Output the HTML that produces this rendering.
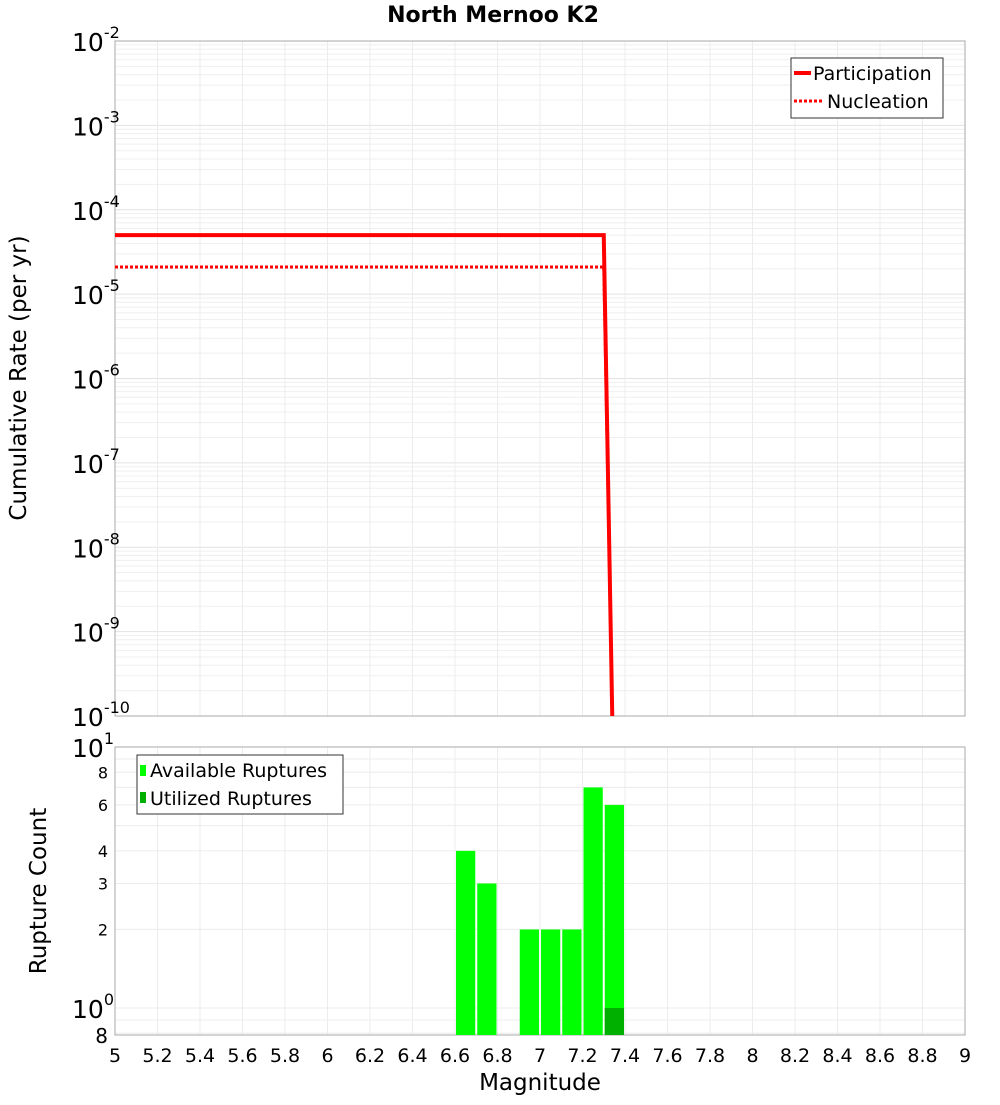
<!DOCTYPE html>
<html><head><meta charset="utf-8"><style>
body{margin:0;background:#fff;}
svg text{font-family:"DejaVu Sans","Liberation Sans",sans-serif;}
</style></head><body>
<svg id="c" width="1000" height="1100" xmlns="http://www.w3.org/2000/svg"></svg>
<script>
const xTicks=[5,5.2,5.4,5.6,5.8,6,6.2,6.4,6.6,6.8,7,7.2,7.4,7.6,7.8,8,8.2,8.4,8.6,8.8,9];
const partMag=[5,7.3,7.34];
const partRate=[5.0e-5,5.0e-5,1e-10];
const nuclMag=[5,7.3,7.34];
const nuclRate=[2.1e-5,2.1e-5,1e-10];
const binStart=[6.6,6.7,6.9,7.0,7.1,7.2,7.3];
const availCount=[4,3,2,2,2,7,6];
const utilStart=[7.3];
const utilCount=[1];
const topExps=[-2,-3,-4,-5,-6,-7,-8,-9,-10];

const svg=document.getElementById('c');const NS='http://www.w3.org/2000/svg';
function mk(t,a,name,parent){const e=document.createElementNS(NS,t);for(const k in a)e.setAttribute(k,a[k]);


(parent||svg).appendChild(e);return e;}
const X0=115,X1=965;
const sx=m=>X0+(m-5)/4*(X1-X0);
const T0=41,T1=716;
const sy=v=>T0+(-2-Math.log10(v))/8*(T1-T0);
const B0=747,B1=1035;
const by=v=>1008-Math.log10(v)*261;

for(let d=-10;d<-2;d++)for(let k=1;k<10;k++){const y=sy(k*Math.pow(10,d));mk('line',{x1:X0,x2:X1,y1:y,y2:y,stroke:k==1?'#e2e2e2':'#efefef','stroke-width':1},'top-grid-h');}
xTicks.forEach(t=>{mk('line',{x1:sx(t),x2:sx(t),y1:T0,y2:T1,stroke:'#ececec'},'top-grid-v');
mk('line',{x1:sx(t),x2:sx(t),y1:B0,y2:B1,stroke:'#ececec'},'bottom-grid-v');});
[0.8,0.9,1,2,3,4,5,6,7,8,9].forEach(v=>{const y=by(v);if(y<B1)mk('line',{x1:X0,x2:X1,y1:y,y2:y,stroke:'#ececec'},'bottom-grid-h');});
mk('rect',{x:X0,y:T0,width:X1-X0,height:T1-T0,fill:'none',stroke:'#aaa'},'top-plot-frame');
mk('rect',{x:X0,y:B0,width:X1-X0,height:B1-B0,fill:'none',stroke:'#aaa'},'bottom-plot-frame');

function pts(ms,rs){return ms.map((m,i)=>sx(m)+','+sy(rs[i])).join(' ');}
mk('polyline',{points:pts(nuclMag,nuclRate),fill:'none',stroke:'#f00','stroke-width':3,'stroke-dasharray':'3,2'},'nucleation-line');
mk('polyline',{points:pts(partMag,partRate),fill:'none',stroke:'#f00','stroke-width':4},'participation-line');

binStart.forEach((m,i)=>{const y=by(availCount[i]);mk('rect',{x:sx(m)+1,y:y,width:sx(m+0.1)-sx(m)-2,height:B1-y,fill:'#00ff00'},'available-bar');});
utilStart.forEach((m,i)=>{const y=by(utilCount[i]);mk('rect',{x:sx(m)+1,y:y,width:sx(m+0.1)-sx(m)-2,height:B1-y,fill:'#00b000'},'utilized-bar');});

function txt(x,y,s,size,name,anchor,extra){const e=mk('text',Object.assign({x:x,y:y,'font-size':size,'text-anchor':anchor||'start',fill:'#000'},extra||{}),name);e.textContent=s;return e;}
xTicks.forEach(t=>txt(sx(t),1062,String(t),19,'x-tick-label','middle'));
topExps.forEach(d=>{const y=sy(Math.pow(10,d));const e=txt(72,y+10,'10',25,'y-tick-label');const s=document.createElementNS(NS,'tspan');s.setAttribute('font-size',16);s.setAttribute('dy',-13);s.textContent=String(d);e.appendChild(s);});
[[10,'1',B0],[1,'0',1008]].forEach(([v,s,y])=>{const e=txt(72,y+10,'10',25,'bottom-y-tick-label');const sp=document.createElementNS(NS,'tspan');sp.setAttribute('font-size',16);sp.setAttribute('dy',-13);sp.textContent=s;e.appendChild(sp);});
[[8,'8'],[6,'6'],[4,'4'],[3,'3'],[2,'2']].forEach(([v,s])=>txt(108,by(v)+6,s,16,'bottom-y-tick-label','end'));
txt(108,1043,'8',20,'bottom-y-tick-label','end');

txt(493,22,'North Mernoo K2',22,'chart-title','middle',{'font-weight':'bold'});
txt(540,1090,'Magnitude',23,'x-axis-title','middle');
txt(26,378,'Cumulative Rate (per yr)',23,'y-axis-title','middle',{transform:'rotate(-90 26 378)'});
txt(46,891,'Rupture Count',23,'bottom-y-axis-title','middle',{transform:'rotate(-90 46 891)'});

mk('rect',{x:791,y:58,width:152,height:60,fill:'#fff',stroke:'#333'},'top-legend');
mk('line',{x1:794,x2:811,y1:73,y2:73,stroke:'#f00','stroke-width':4},'legend-participation-swatch');
txt(813,80,'Participation',19,'legend-participation');
mk('line',{x1:794,x2:822,y1:101,y2:101,stroke:'#f00','stroke-width':3,'stroke-dasharray':'3,2'},'legend-nucleation-swatch');
txt(827,108,'Nucleation',19,'legend-nucleation');
mk('rect',{x:137,y:755,width:206,height:59,fill:'#fff',stroke:'#333'},'bottom-legend');
mk('rect',{x:140,y:765,width:6,height:11,fill:'#00ff00'},'legend-available-swatch');
txt(150,777,'Available Ruptures',19,'legend-available');
mk('rect',{x:140,y:792,width:6,height:11,fill:'#00b000'},'legend-utilized-swatch');
txt(150,805,'Utilized Ruptures',19,'legend-utilized');
</script>
</body></html>
